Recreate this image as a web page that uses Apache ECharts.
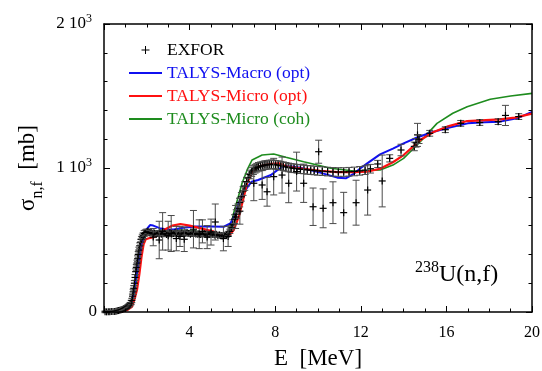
<!DOCTYPE html>
<html>
<head>
<meta charset="utf-8">
<script src="https://cdn.jsdelivr.net/npm/echarts@6/dist/echarts.min.js"></script>
<style>
  html, body { margin: 0; padding: 0; background: #fff; }
  #wrap { position: relative; width: 542px; height: 371px; }
  #chart, #frame { position: absolute; left: 0; top: 0; width: 542px; height: 371px; }
  #frame { pointer-events: none; }
</style>
</head>
<body>
<div id="wrap">
  <div id="chart"></div>
  <div id="frame"></div>
</div>
<script>
// ---- axis ticks ----
const xTicks = [0, 4, 8, 12, 16, 20];
const yTicks = [0, 1000, 2000];

// ---- EXFOR measurements: energy (MeV), cross section (mb), uncertainty (mb) ----
const expE = [
  0.05, 0.12, 0.2, 0.27, 0.34, 0.42, 0.5, 0.56, 0.62, 0.68, 0.74, 0.8, 0.86, 0.92, 0.97, 1.02, 1.07, 1.12, 1.17, 1.22, 1.27,
  1.30, 1.33, 1.36, 1.39, 1.42, 1.45, 1.48, 1.51, 1.54, 1.57, 1.60, 1.63, 1.67, 1.71, 1.75, 1.79, 1.83, 1.88, 1.93, 1.98,
  2.05, 2.12, 2.2, 2.28, 2.36, 2.44, 2.52, 2.6, 2.68, 2.76, 2.84, 2.92, 3.0, 3.08, 3.16, 3.24, 3.32, 3.4, 3.48, 3.56,
  3.64, 3.72, 3.8, 3.88, 3.96, 4.04, 4.12, 4.2, 4.28, 4.36, 4.44, 4.52, 4.6, 4.68, 4.76, 4.84, 4.92, 5.0, 5.08, 5.16,
  5.24, 5.32, 5.4, 5.48, 5.56, 5.64, 5.72, 5.8, 5.88, 5.95,
  2.30, 2.58, 2.74, 3.00, 3.14, 3.38, 3.55, 3.75, 4.18, 4.45, 4.60, 4.82, 5.00, 5.20, 5.58, 5.80,
  6.02, 6.1, 6.18, 6.26, 6.34, 6.42, 6.5, 6.58, 6.66, 6.74, 6.82, 6.9, 6.98, 7.06, 7.14, 7.22, 7.32, 7.42, 7.52, 7.62,
  7.72, 7.82, 7.92, 8.02, 8.14, 8.26, 8.38, 8.5, 8.62, 8.74, 8.88, 9.02, 9.18, 9.34, 9.5, 9.66, 9.82, 9.98, 10.2, 10.45,
  10.7, 10.95, 11.2, 11.45, 11.7, 11.95, 12.2, 12.45,
  6.15, 6.35, 7.00, 7.39, 7.62, 7.93, 8.32, 8.63, 9.00, 9.33, 9.77, 10.03, 10.24, 10.70, 11.20, 11.78, 12.32, 13.00,
  12.79, 13.35, 13.88, 14.50, 14.58, 14.65, 14.72, 15.22, 15.95, 16.67, 17.56, 18.42, 18.76, 19.38
];
const expSig = [
  1, 1, 2, 2, 3, 3, 4, 6, 8, 10, 12, 15, 18, 22, 26, 30, 35, 40, 46, 54, 66,
  80, 110, 140, 165, 200, 240, 280, 310, 340, 370, 400, 430, 460, 485, 505, 520, 530, 545, 550, 555,
  560, 550, 552, 545, 548, 540, 545, 550, 540, 545, 548, 538, 545, 550, 540, 545, 552, 548, 540, 545,
  550, 542, 548, 552, 545, 540, 545, 548, 542, 540, 545, 538, 542, 545, 540, 535, 540, 545, 538, 535,
  540, 532, 535, 530, 528, 532, 535, 545, 560, 585,
  520, 500, 560, 530, 545, 510, 525, 505, 575, 540, 560, 520, 555, 625, 510, 525,
  610, 645, 680, 720, 760, 800, 840, 875, 905, 930, 955, 972, 985, 995, 1002, 1008, 1012, 1016, 1020, 1022,
  1024, 1025, 1025, 1022, 1020, 1016, 1012, 1008, 1004, 1000, 998, 995, 992, 990, 987, 985, 983, 980, 978, 975,
  973, 972, 972, 974, 976, 980, 985, 995,
  660, 700, 894, 882, 835, 940, 951, 894, 975, 894, 731, 1113, 720, 759, 690, 759, 847, 910,
  1028, 1067, 1125, 1150, 1175, 1230, 1200, 1241, 1266, 1310, 1316, 1322, 1365, 1357
];
const expErr = [
  6, 6, 6, 6, 6, 6, 6, 6, 6, 8, 8, 8, 8, 8, 10, 10, 10, 10, 12, 12, 15,
  15, 15, 18, 18, 18, 20, 20, 20, 20, 20, 20, 20, 20, 20, 20, 20, 20, 20, 20, 20,
  15, 15, 15, 15, 15, 15, 15, 15, 15, 15, 15, 15, 15, 15, 15, 15, 15, 15, 15, 15,
  15, 15, 15, 15, 15, 15, 15, 15, 15, 15, 15, 15, 15, 15, 15, 15, 15, 15, 15, 15,
  15, 15, 15, 15, 15, 15, 15, 15, 15, 15,
  60, 130, 130, 100, 125, 85, 70, 85, 130, 100, 80, 80, 90, 125, 85, 70,
  30, 30, 30, 30, 30, 30, 30, 30, 30, 30, 30, 30, 30, 30, 30, 30, 30, 30, 30, 30,
  30, 30, 30, 30, 30, 30, 30, 30, 30, 30, 30, 30, 30, 30, 30, 30, 30, 30, 30, 30,
  30, 30, 30, 30, 30, 30, 30, 30,
  80, 90, 121, 100, 100, 127, 125, 135, 135, 133, 130, 80, 135, 145, 141, 156, 174, 180,
  25, 25, 40, 30, 30, 80, 30, 20, 20, 20, 20, 20, 70, 20
];

// ---- TALYS calculations ----
const macroOptE = [0, 0.5, 0.9, 1.1, 1.2, 1.3, 1.4, 1.5, 1.6, 1.7, 1.8, 1.9, 2.0, 2.15, 2.3, 2.6, 3.0, 3.3, 3.7, 4.3,
  5.0, 5.6, 5.9, 6.1, 6.3, 6.6, 6.9, 7.2, 7.8, 8.1, 8.4, 8.9, 9.3, 10.1, 10.9, 11.3, 11.7, 12.0, 12.3, 12.9,
  13.5, 14.0, 14.6, 15.25, 16.0, 17.0, 17.8, 18.5, 19.3, 20];
const macroOptSig = [0, 2, 8, 20, 35, 70, 150, 240, 335, 420, 490, 540, 575, 604, 600, 582, 572, 574, 585, 593,
  593, 592, 615, 665, 760, 847, 905, 917, 951, 985, 1014, 1008, 998, 968, 933, 928, 963, 1000, 1032, 1095,
  1135, 1171, 1210, 1245, 1276, 1310, 1318, 1322, 1345, 1390];

const microOptE = [0, 0.5, 0.9, 1.1, 1.2, 1.3, 1.45, 1.55, 1.65, 1.75, 1.85, 1.95, 2.1, 2.32, 2.6, 2.8, 3.2, 3.57, 4.0, 4.35,
  4.8, 5.13, 5.4, 5.67, 5.9, 6.06, 6.3, 6.5, 6.69, 6.9, 7.15, 7.5, 7.8, 8.2, 8.55, 9.3, 10.1, 10.9, 11.66, 12.3,
  12.9, 13.5, 14.0, 14.78, 15.4, 16.03, 16.97, 18.5, 19.2, 20];
const microOptSig = [0, 1, 5, 15, 25, 35, 100, 160, 260, 380, 470, 505, 512, 519, 548, 569, 600, 611, 600, 588,
  570, 558, 540, 523, 540, 569, 662, 780, 895, 960, 1007, 1020, 1028, 1032, 1009, 995, 981, 972, 972, 975,
  995, 1040, 1090, 1194, 1250, 1287, 1326, 1338, 1350, 1378];

const microCohE = [0, 0.5, 0.9, 1.1, 1.2, 1.3, 1.4, 1.5, 1.6, 1.7, 1.8, 1.9, 2.01, 2.3, 2.64, 3.57, 4.35, 5.28, 5.6, 5.83,
  6.06, 6.3, 6.45, 6.7, 6.92, 7.39, 7.93, 8.5, 9.33, 10.6, 11.67, 12.9, 13.5, 14.0, 14.78, 15.56, 16.3, 16.97, 18.05, 19.0, 20];
const microCohSig = [0, 1, 5, 15, 28, 50, 120, 200, 300, 400, 470, 515, 546, 555, 569, 569, 558, 535, 538, 546,
  687, 812, 894, 990, 1056, 1090, 1097, 1075, 1044, 998, 979, 986, 1020, 1067, 1183, 1310, 1380, 1426, 1477, 1500, 1518];

const seriesNames = ['EXFOR', 'TALYS-Macro (opt)', 'TALYS-Micro (opt)', 'TALYS-Micro (coh)'];

const SERIF = '"Liberation Serif", "Times New Roman", serif';
const BLUE = '#1010f0';
const RED = '#ff1010';
const GREEN = '#1e8c1e';

const PLUS_ICON = 'path://M3.5,0H4.5V3.5H8V4.5H4.5V8H3.5V4.5H0V3.5H3.5Z';
const LINE_ICON = 'path://M0,0H33V2H0Z';

// shared plot rectangle for the data chart and the frame overlay
const GRID = { left: 104, right: 10, top: 24, bottom: 59, outerBoundsMode: 'none' };

function pairs(xs, ys) {
  return xs.map((x, i) => [x, ys[i]]);
}

const expData = expE.map((e, i) => [e, expSig[i], expErr[i]]);

function seg(x1, y1, x2, y2, style) {
  return { type: 'line', shape: { x1: x1, y1: y1, x2: x2, y2: y2 }, style: style };
}

// error bar with caps plus a "+" marker for each measurement
function renderExp(params, api) {
  const e = api.value(0), s = api.value(1), d = api.value(2);
  const c = api.coord([e, s]);
  const top = api.coord([e, s + d]);
  const bot = api.coord([e, s - d]);
  const cap = 3.5, arm = 3.5;
  const barStyle = { stroke: '#4a4a4a', lineWidth: 1 };
  const markStyle = { stroke: '#000', lineWidth: 1.2 };
  return {
    type: 'group',
    children: [
      seg(c[0], top[1], c[0], bot[1], barStyle),
      seg(c[0] - cap, top[1], c[0] + cap, top[1], barStyle),
      seg(c[0] - cap, bot[1], c[0] + cap, bot[1], barStyle),
      seg(c[0] - arm, c[1], c[0] + arm, c[1], markStyle),
      seg(c[0], c[1] - arm, c[0], c[1] + arm, markStyle)
    ]
  };
}

function yLabel(v) {
  if (v === 0) return '{n|0}';
  return '{n|' + (v / 1000) + ' 10}{s|3}{gap|}';
}

// ---- data chart: curves, measurements, labels, legend ----
const chart = echarts.init(document.getElementById('chart'));
chart.setOption({
  animation: false,
  backgroundColor: '#fff',
  grid: GRID,
  xAxis: {
    type: 'value', min: xTicks[0], max: xTicks[xTicks.length - 1], interval: 4,
    axisLine: { show: false }, axisTick: { show: false }, splitLine: { show: false },
    axisLabel: {
      margin: 13, color: '#000', fontFamily: SERIF, fontSize: 16,
      formatter: v => (v === 0 ? '' : String(v))
    },
    name: 'E  [MeV]', nameLocation: 'middle', nameGap: 35,
    nameTextStyle: { color: '#000', fontFamily: SERIF, fontSize: 23 }
  },
  yAxis: {
    type: 'value', min: yTicks[0], max: yTicks[yTicks.length - 1], interval: 1000,
    axisLine: { show: false }, axisTick: { show: false }, splitLine: { show: false },
    axisLabel: {
      margin: 7, color: '#000', fontFamily: SERIF,
      formatter: yLabel,
      rich: {
        n: { fontFamily: SERIF, fontSize: 17, color: '#000', lineHeight: 22 },
        s: { fontFamily: SERIF, fontSize: 12, color: '#000', lineHeight: 12, verticalAlign: 'top' },
        gap: { width: 5 }
      }
    },
    name: '{g|σ}{sub|n,f}{g|  [mb]}', nameLocation: 'middle', nameGap: 58, nameRotate: 90,
    nameTextStyle: {
      color: '#000',
      rich: {
        g: { fontFamily: SERIF, fontSize: 23, color: '#000', lineHeight: 34, verticalAlign: 'middle' },
        sub: { fontFamily: SERIF, fontSize: 16, color: '#000', lineHeight: 16, verticalAlign: 'bottom' }
      }
    }
  },
  legend: {
    orient: 'vertical', left: 129, top: 41, padding: 0,
    itemWidth: 33, itemHeight: 8, itemGap: 5,
    textStyle: { fontFamily: SERIF, fontSize: 17.5, lineHeight: 18 },
    data: [
      { name: seriesNames[0], icon: PLUS_ICON, textStyle: { color: '#000' } },
      { name: seriesNames[1], icon: LINE_ICON, textStyle: { color: BLUE } },
      { name: seriesNames[2], icon: LINE_ICON, textStyle: { color: RED } },
      { name: seriesNames[3], icon: LINE_ICON, textStyle: { color: GREEN } }
    ]
  },
  graphic: [
    {
      type: 'text', left: 415, top: 260, silent: true,
      style: {
        text: '{sup|238}{main|U(n,f)}',
        rich: {
          sup: { fontFamily: SERIF, fontSize: 16, fill: '#000', lineHeight: 16, verticalAlign: 'top' },
          main: { fontFamily: SERIF, fontSize: 24, fill: '#000', lineHeight: 30, verticalAlign: 'middle' }
        }
      }
    }
  ],
  series: [
    {
      name: seriesNames[3], type: 'line', data: pairs(microCohE, microCohSig), symbol: 'none', z: 2,
      lineStyle: { color: GREEN, width: 1.6 }, itemStyle: { color: GREEN }
    },
    {
      name: seriesNames[1], type: 'line', data: pairs(macroOptE, macroOptSig), symbol: 'none', z: 3,
      lineStyle: { color: BLUE, width: 2 }, itemStyle: { color: BLUE }
    },
    {
      name: seriesNames[2], type: 'line', data: pairs(microOptE, microOptSig), symbol: 'none', z: 4,
      lineStyle: { color: RED, width: 2.2 }, itemStyle: { color: RED }
    },
    {
      name: seriesNames[0], type: 'custom', data: expData, renderItem: renderExp, z: 5,
      encode: { x: 0, y: 1 }, itemStyle: { color: '#000' }
    }
  ]
});

// ---- frame overlay: box with inward major/minor ticks on all four sides ----
function frameAxis(extra) {
  return Object.assign({
    type: 'value',
    axisLine: { show: true, onZero: false, lineStyle: { color: '#000', width: 1.5 } },
    axisTick: { show: true, inside: true, length: 6, lineStyle: { color: '#000', width: 1 } },
    minorTick: { show: true, length: 3.5, lineStyle: { color: '#000', width: 1 } },
    splitLine: { show: false },
    axisLabel: { show: false }
  }, extra);
}

const frame = echarts.init(document.getElementById('frame'));
frame.setOption({
  animation: false,
  backgroundColor: 'transparent',
  grid: GRID,
  xAxis: [
    frameAxis({ min: xTicks[0], max: xTicks[xTicks.length - 1], interval: 4, position: 'bottom',
      minorTick: { show: true, splitNumber: 4, length: 3.5, lineStyle: { color: '#000', width: 1 } } }),
    frameAxis({ min: xTicks[0], max: xTicks[xTicks.length - 1], interval: 4, position: 'top',
      minorTick: { show: true, splitNumber: 4, length: 3.5, lineStyle: { color: '#000', width: 1 } } })
  ],
  yAxis: [
    frameAxis({ min: yTicks[0], max: yTicks[yTicks.length - 1], interval: 1000, position: 'left',
      minorTick: { show: true, splitNumber: 5, length: 3.5, lineStyle: { color: '#000', width: 1 } } }),
    frameAxis({ min: yTicks[0], max: yTicks[yTicks.length - 1], interval: 1000, position: 'right',
      minorTick: { show: true, splitNumber: 5, length: 3.5, lineStyle: { color: '#000', width: 1 } } })
  ],
  series: [{ type: 'line', data: [], silent: true }]
});
</script>
</body>
</html>
